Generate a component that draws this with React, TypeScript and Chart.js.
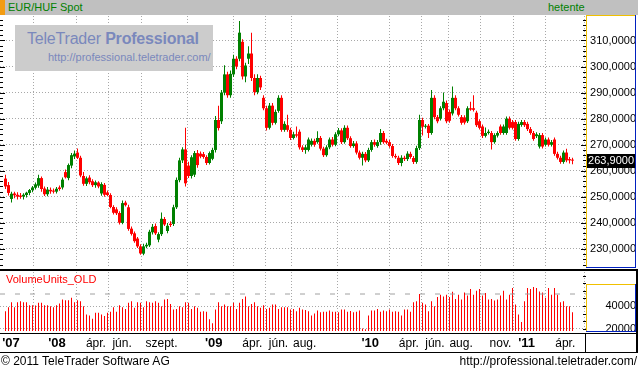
import React, { useEffect, useRef } from 'react';
import { Chart, registerables } from 'chart.js';
Chart.register(...registerables);

// ---------- data (weekly EUR/HUF, first week starting 2007-09-03) ----------
const firstWeek = '2007-09-03';

const opens = [
  257.0, 254.5, 249.2, 251.3, 250.8, 250.5, 250.1, 250.7, 251.5, 252.6,
  253.5, 254.3, 257.2, 253.2, 251.0, 252.7, 252.4, 252.0, 253.6, 253.6,
  259.5, 257.2, 262.0, 265.5, 267.0, 265.0, 258.0, 255.0, 257.4, 256.0,
  254.5, 255.5, 251.3, 254.6, 251.7, 250.7, 246.1, 245.2, 243.8, 240.0,
  247.8, 246.0, 237.8, 236.0, 234.0, 231.0, 228.2, 231.0, 231.4, 236.4,
  238.8, 233.6, 235.7, 241.5, 236.9, 239.7, 239.6, 246.0, 256.4, 264.0,
  268.2, 262.0, 258.0, 258.5, 266.8, 266.6, 266.4, 265.3, 263.0, 264.6,
  268.0, 279.5, 279.0, 290.0, 297.0, 289.0, 297.0, 303.0, 303.0, 309.5,
  296.2, 303.0, 305.0, 295.6, 290.2, 295.6, 288.0, 284.0, 276.5, 285.0,
  278.4, 283.0, 288.0, 275.7, 277.5, 275.7, 272.6, 274.0, 275.0, 269.0,
  268.0, 268.0, 270.0, 271.5, 271.0, 272.6, 268.5, 266.0, 269.0, 272.0,
  270.0, 274.0, 275.5, 271.0, 276.5, 272.5, 269.5, 270.5, 267.0, 265.0,
  266.5, 264.0, 268.0, 271.0, 269.5, 271.0, 274.5, 271.5, 271.0, 269.5,
  265.7, 265.0, 263.0, 265.0, 264.5, 266.5, 264.9, 263.4, 268.7, 279.5,
  276.9, 277.3, 274.5, 288.0, 280.6, 280.0, 284.0, 286.0, 282.6, 282.0,
  288.0, 284.0, 280.6, 280.5, 279.0, 284.0, 284.0, 282.3, 279.0, 277.0,
  273.4, 274.5, 274.5, 271.0, 273.5, 277.0, 274.5, 274.5, 280.0, 278.7,
  278.7, 272.2, 277.6, 278.7, 278.0, 276.0, 274.5, 273.3, 269.3, 273.7,
  270.0, 272.0, 270.0, 272.0, 266.5, 265.0, 263.4, 267.0, 264.5, 264.2,
];
const highs = [
  258.5, 255.7, 252.0, 252.0, 251.8, 251.5, 251.4, 252.0, 253.0, 254.2,
  255.5, 258.5, 257.8, 254.0, 253.8, 253.6, 253.2, 253.8, 254.4, 257.4,
  260.5, 262.8, 266.8, 267.8, 268.6, 265.8, 259.5, 257.8, 258.3, 256.8,
  256.3, 256.0, 255.6, 255.3, 252.4, 251.4, 246.8, 246.0, 244.5, 248.6,
  248.5, 247.0, 238.6, 236.7, 234.6, 231.8, 232.0, 232.4, 237.4, 239.6,
  239.8, 236.4, 244.0, 242.3, 240.0, 240.6, 247.0, 257.4, 265.0, 269.0,
  276.5, 263.5, 266.0, 267.6, 268.0, 267.4, 267.2, 266.0, 267.4, 268.8,
  281.0, 285.0, 291.0, 300.5, 298.0, 298.5, 304.5, 304.0, 317.5, 310.5,
  301.5, 307.8, 313.0, 297.0, 297.0, 296.5, 289.0, 285.0, 286.0, 286.0,
  283.5, 289.0, 289.0, 279.0, 281.5, 276.5, 275.0, 277.0, 275.8, 269.8,
  270.0, 272.8, 272.4, 272.3, 275.2, 273.4, 269.2, 269.8, 272.8, 273.0,
  274.8, 276.4, 276.3, 277.5, 277.4, 273.3, 271.4, 271.3, 267.8, 267.3,
  267.2, 268.8, 271.8, 272.0, 271.8, 276.0, 275.3, 272.3, 271.8, 270.3,
  266.5, 265.8, 266.0, 265.8, 267.5, 267.3, 265.7, 269.6, 281.5, 280.4,
  278.0, 278.0, 291.0, 289.0, 281.4, 284.8, 290.0, 287.0, 283.5, 292.3,
  289.0, 284.8, 281.4, 281.3, 284.8, 286.5, 289.0, 283.0, 279.8, 277.8,
  276.6, 275.8, 275.3, 274.4, 275.2, 277.8, 277.8, 280.8, 280.8, 279.5,
  279.5, 278.8, 279.5, 279.5, 278.8, 276.8, 275.3, 274.8, 274.5, 274.5,
  272.8, 272.8, 271.8, 272.8, 267.3, 265.8, 267.8, 268.5, 265.3, 265.0,
];
const lows = [
  253.0, 250.5, 247.8, 249.5, 249.0, 249.3, 249.0, 249.8, 250.6, 251.8,
  252.8, 253.5, 252.0, 250.3, 250.2, 251.2, 251.3, 251.3, 252.3, 252.8,
  257.0, 256.4, 261.0, 264.5, 264.5, 257.5, 254.3, 254.2, 254.8, 253.8,
  253.5, 253.3, 250.4, 250.0, 250.2, 245.6, 243.2, 243.0, 239.4, 239.5,
  246.3, 237.0, 235.2, 232.4, 230.4, 227.8, 227.6, 230.3, 230.8, 235.6,
  235.4, 232.6, 235.0, 238.8, 236.0, 238.4, 238.8, 245.3, 255.6, 263.0,
  254.0, 257.2, 257.0, 257.6, 261.2, 264.8, 264.6, 262.2, 262.4, 264.0,
  267.0, 275.5, 278.0, 289.0, 288.0, 288.0, 296.0, 299.0, 302.0, 295.0,
  294.0, 301.0, 294.5, 289.0, 289.4, 291.0, 283.2, 275.5, 275.8, 277.5,
  277.8, 282.3, 275.0, 275.0, 275.0, 271.8, 272.0, 272.8, 268.2, 267.2,
  266.5, 267.4, 269.3, 269.2, 270.4, 267.8, 265.3, 265.4, 268.3, 269.3,
  269.4, 273.3, 270.3, 270.4, 271.8, 268.8, 268.8, 266.3, 264.3, 262.0,
  263.3, 263.4, 267.3, 269.2, 268.8, 270.0, 270.4, 270.2, 268.8, 265.0,
  264.6, 262.2, 261.7, 263.8, 263.8, 264.6, 262.6, 262.7, 268.0, 273.5,
  276.2, 272.6, 273.8, 279.8, 278.2, 279.3, 283.2, 278.2, 278.4, 281.2,
  283.2, 280.8, 277.7, 277.8, 278.3, 283.0, 282.8, 276.8, 275.8, 272.6,
  272.8, 273.9, 268.2, 270.4, 272.8, 273.8, 273.8, 273.8, 275.8, 275.8,
  271.5, 271.5, 276.9, 276.8, 275.3, 273.8, 271.5, 272.6, 268.6, 268.6,
  269.3, 269.3, 269.3, 265.8, 264.3, 262.7, 262.7, 263.3, 262.8, 262.5,
];
const closes = [
  254.0, 251.5, 251.2, 250.6, 250.1, 250.0, 250.8, 251.6, 252.6, 253.6,
  254.8, 257.2, 253.0, 251.0, 252.8, 252.1, 252.0, 253.1, 253.0, 256.6,
  257.5, 262.2, 266.0, 266.6, 265.0, 258.2, 255.0, 257.1, 255.6, 254.5,
  255.6, 254.0, 254.9, 250.8, 250.7, 246.1, 243.9, 243.7, 240.1, 247.6,
  246.8, 237.7, 235.8, 233.0, 231.0, 228.3, 231.0, 231.6, 236.6, 238.5,
  236.0, 235.7, 241.6, 239.4, 238.9, 239.2, 246.0, 256.5, 264.0, 268.2,
  255.2, 258.0, 265.2, 266.8, 262.2, 265.5, 265.3, 263.0, 266.8, 268.0,
  279.5, 276.4, 290.0, 297.0, 289.0, 297.2, 303.0, 300.0, 313.0, 296.2,
  300.4, 305.0, 295.6, 290.2, 295.6, 292.0, 284.0, 276.5, 285.0, 278.4,
  282.6, 288.0, 275.7, 278.0, 275.7, 272.6, 274.0, 273.5, 269.0, 268.0,
  269.0, 272.0, 271.5, 270.0, 272.6, 268.5, 266.0, 269.0, 272.0, 270.0,
  274.0, 275.5, 271.0, 276.5, 272.5, 269.5, 270.5, 267.0, 265.0, 266.5,
  264.0, 268.0, 271.0, 270.0, 271.0, 274.5, 271.0, 270.8, 269.5, 265.7,
  265.2, 263.0, 265.0, 264.5, 266.6, 265.3, 263.4, 268.7, 279.5, 276.9,
  277.3, 274.5, 288.0, 280.6, 279.0, 284.0, 286.5, 279.0, 279.2, 288.0,
  284.0, 281.5, 278.4, 278.5, 284.0, 283.5, 283.4, 277.5, 276.5, 273.4,
  274.5, 275.0, 271.0, 273.7, 274.5, 274.5, 277.0, 280.0, 276.5, 276.5,
  272.2, 278.0, 278.7, 277.5, 276.0, 274.5, 272.2, 274.0, 273.7, 269.3,
  272.0, 270.0, 271.0, 266.5, 265.0, 263.4, 267.0, 264.0, 264.0, 263.9,
];
const volumes = [
  35500, 39000, 43300, 39000, 43300, 44200, 43300, 43300, 40700, 40700,
  40400, 42800, 42800, 40700, 40700, 39800, 39000, 40700, 42200, 45700,
  45100, 45100, 47200, 43300, 45100, 44200, 39800, 32600, 31700, 28800,
  34100, 34100, 32600, 31200, 34100, 35000, 39000, 35000, 40700, 39000,
  37500, 42800, 44200, 38400, 43300, 42800, 39000, 44200, 43300, 42800,
  44200, 42800, 39800, 45700, 46300, 41900, 37000, 37500, 39800, 39000,
  43300, 42800, 37500, 39800, 38400, 35000, 35500, 35000, 28300, 24800,
  37000, 43300, 39800, 41300, 39800, 39800, 42800, 37500, 42800, 46300,
  48500, 39800, 41900, 43300, 39800, 38400, 40700, 37500, 38400, 41300,
  41300, 37500, 39000, 39000, 39000, 37000, 37500, 35500, 38400, 37000,
  36500, 35500, 31700, 33500, 36000, 34600, 35000, 35000, 36000, 35000,
  35000, 34600, 37000, 37000, 35000, 35600, 34600, 35000, 36000, 20200,
  19500, 31700, 36000, 36000, 37500, 35000, 36000, 35500, 37000, 35000,
  35500, 35000, 31700, 37000, 37000, 35000, 43300, 44200, 50600, 42800,
  41300, 35500, 44200, 39800, 48000, 50000, 48500, 50000, 48000, 52600,
  46300, 50000, 45700, 52000, 49200, 55000, 50000, 53500, 55000, 49200,
  51500, 45700, 46300, 44800, 45700, 49200, 53500, 45700, 50000, 55800,
  41300, 32600, 26000, 44200, 55800, 55000, 56700, 55800, 52900, 52000,
  47200, 55800, 50000, 55800, 50000, 43300, 44200, 39800, 39800, 34600,
];
const volumeAverage = 50600;
const lastPrice = 263.9;

const firstYearLabel = "'07";
const tickDates = [
  '2008-01-01', '2008-04-01', '2008-06-01', '2008-09-01',
  '2009-01-01', '2009-04-01', '2009-06-01', '2009-08-01',
  '2010-01-01', '2010-04-01', '2010-06-01', '2010-08-01', '2010-11-01',
  '2011-01-01', '2011-04-01',
];
const tickLabels = [
  "'08", 'ápr.', 'jún.', 'szept.',
  "'09", 'ápr.', 'jún.', 'aug.',
  "'10", 'ápr.', 'jún.', 'aug.', 'nov.',
  "'11", 'ápr.',
];
const priceTicks = [230, 240, 250, 260, 270, 280, 290, 300, 310];
const volumeTicks = [20000, 40000];

// ---------- layout / style ----------
const PX_PER_WEEK = 3;
const X_MIN = -5.5 / PX_PER_WEEK;
const X_MAX = X_MIN + 586 / PX_PER_WEEK;
const FIRST_LABEL_POS = X_MIN + 11 / PX_PER_WEEK;
const PRICE_MIN = 222.7;
const PRICE_MAX = 319.4;
const VOL_MIN = 18000;
const VOL_MAX = 70000;
const GREEN = '#008000';
const RED = '#ff0000';
const GRID = '#a8a8a8';
const YELLOW = '#f0c000';
const BLUE = '#0020c0';
const FONT = 'Arial, "Liberation Sans", sans-serif';

const weekIndex = (d: string) => (Date.parse(d) - Date.parse(firstWeek)) / (7 * 86400000);
const fmtPrice = (v: number) => v.toFixed(4).replace('.', ',');

function xScale(showLabels: boolean): any {
  const values = [FIRST_LABEL_POS, ...tickDates.map(weekIndex)];
  const labels = [firstYearLabel, ...tickLabels];
  return {
    type: 'linear',
    min: X_MIN,
    max: X_MAX,
    offset: false,
    afterBuildTicks: (s: any) => { s.ticks = values.map((v) => ({ value: v })); },
    afterFit: (s: any) => { s.height = showLabels ? 21 : 0; s.paddingLeft = 0; s.paddingRight = 0; },
    grid: {
      color: (c: any) => (c.index === 0 ? 'rgba(0,0,0,0)' : GRID),
      lineWidth: 1,
      drawTicks: false,
    },
    border: { display: false, dash: [1, 2] },
    ticks: {
      display: showLabels,
      autoSkip: false,
      maxRotation: 0,
      minRotation: 0,
      padding: 5,
      color: '#000',
      callback: (_v: any, i: number) => labels[i],
      font: (c: any) => {
        const l = labels[c.index] || '';
        return l.startsWith("'") ? { family: FONT, size: 13, weight: 'bold' } : { family: FONT, size: 12 };
      },
    },
  };
}

function yScale(min: number, max: number, ticks: number[], fmt: (v: number) => string): any {
  return {
    type: 'linear',
    position: 'right',
    min,
    max,
    afterBuildTicks: (s: any) => { s.ticks = ticks.map((v) => ({ value: v })); },
    afterFit: (s: any) => { s.width = 50; s.paddingTop = 0; s.paddingBottom = 0; },
    grid: { color: GRID, lineWidth: 1, drawTicks: false },
    border: { display: false, dash: [1, 2] },
    ticks: {
      crossAlign: 'far',
      padding: 0,
      color: '#000',
      font: { family: FONT, size: 11 },
      callback: (v: any) => fmt(Number(v)),
    },
  };
}

const priceDecor = {
  id: 'priceDecor',
  afterDraw(chart: any) {
    const { ctx, chartArea } = chart;
    const y = chart.scales.y;
    ctx.save();
    ctx.strokeStyle = '#000';
    ctx.lineWidth = 1;
    for (let v = Math.ceil(PRICE_MIN / 2) * 2; v <= PRICE_MAX; v += 2) {
      const py = Math.round(y.getPixelForValue(v)) + 0.5;
      const major = v % 10 === 0;
      ctx.beginPath();
      ctx.moveTo(chartArea.right - (major ? 5 : 3), py);
      ctx.lineTo(chartArea.right, py);
      ctx.moveTo(chartArea.left, py);
      ctx.lineTo(chartArea.left + (major ? 5 : 3), py);
      ctx.stroke();
    }
    const py = Math.round(y.getPixelForValue(lastPrice));
    ctx.fillStyle = '#000';
    ctx.fillRect(chartArea.right, py - 7, 49, 14);
    ctx.fillStyle = '#fff';
    ctx.font = `11px ${FONT}`;
    ctx.textAlign = 'right';
    ctx.textBaseline = 'middle';
    ctx.fillText(fmtPrice(lastPrice), chart.width - 2, py);
    ctx.restore();
  },
};

const volDecor = {
  id: 'volDecor',
  afterDraw(chart: any) {
    const { ctx, chartArea } = chart;
    const y = chart.scales.y;
    ctx.save();
    ctx.strokeStyle = '#000';
    ctx.lineWidth = 1;
    for (let v = 20000; v <= VOL_MAX; v += 20000 / 3) {
      const py = Math.round(y.getPixelForValue(v)) + 0.5;
      ctx.beginPath();
      ctx.moveTo(chartArea.right - 3, py);
      ctx.lineTo(chartArea.right, py);
      ctx.stroke();
    }
    ctx.restore();
  },
};

export default function App() {
  const priceRef = useRef<HTMLCanvasElement>(null);
  const volRef = useRef<HTMLCanvasElement>(null);

  useEffect(() => {
    const candleColor = (c: any) => (closes[c.dataIndex] >= opens[c.dataIndex] ? GREEN : RED);
    const price = new Chart(priceRef.current as HTMLCanvasElement, {
      type: 'bar',
      data: {
        datasets: [
          {
            data: closes.map((_, i) => ({ x: i, y: [lows[i], highs[i]] })) as any,
            backgroundColor: candleColor,
            barThickness: 1,
            grouped: false,
            inflateAmount: 0,
            borderWidth: 0,
          } as any,
          {
            data: closes.map((c, i) => ({ x: i, y: [opens[i], c] })) as any,
            backgroundColor: candleColor,
            barThickness: 3,
            grouped: false,
            inflateAmount: 0,
            borderWidth: 0,
            minBarLength: 1,
          } as any,
        ],
      },
      options: {
        animation: false,
        responsive: false,
        devicePixelRatio: 1,
        layout: { padding: 0 },
        plugins: { legend: { display: false }, tooltip: { enabled: false } },
        scales: {
          x: xScale(false),
          y: yScale(PRICE_MIN, PRICE_MAX, priceTicks, fmtPrice),
        },
      } as any,
      plugins: [priceDecor],
    });

    const vol = new Chart(volRef.current as HTMLCanvasElement, {
      type: 'bar',
      data: {
        datasets: [
          {
            type: 'line',
            data: [{ x: X_MIN, y: volumeAverage }, { x: X_MAX, y: volumeAverage }],
            borderColor: '#a0a0a0',
            borderWidth: 1,
            borderDash: [5, 10],
            pointRadius: 0,
          } as any,
          {
            data: volumes.map((v, i) => ({ x: i, y: v })) as any,
            backgroundColor: RED,
            barThickness: 1,
            grouped: false,
            inflateAmount: 0,
            borderWidth: 0,
          } as any,
        ],
      },
      options: {
        animation: false,
        responsive: false,
        devicePixelRatio: 1,
        layout: { padding: 0 },
        plugins: { legend: { display: false }, tooltip: { enabled: false } },
        scales: {
          x: xScale(true),
          y: yScale(VOL_MIN, VOL_MAX, volumeTicks, (v) => String(v)),
        },
      } as any,
      plugins: [volDecor],
    });

    return () => {
      price.destroy();
      vol.destroy();
    };
  }, []);

  const abs = (l: number, t: number, w: number, h: number, bg: string): React.CSSProperties => ({
    position: 'absolute', left: l, top: t, width: w, height: h, background: bg,
  });
  const txt: React.CSSProperties = { position: 'absolute', fontFamily: FONT, whiteSpace: 'nowrap', lineHeight: 1 };

  return (
    <div style={{ position: 'absolute', left: 0, top: 0, width: 638, height: 371, background: '#fff', overflow: 'hidden' }}>
      {/* title bar */}
      <div style={abs(0, 0, 638, 15, '#c0c0c0')} />
      <div style={abs(0, 0, 5, 15, '#f39c12')} />
      <div style={{ ...txt, left: 8, top: 2, fontSize: 11, color: GREEN }}>EUR/HUF Spot</div>
      <div style={{ ...txt, left: 548, top: 2, fontSize: 11, color: GREEN }}>hetente</div>

      {/* price panel */}
      <canvas ref={priceRef} width={636} height={252} style={{ position: 'absolute', left: 0, top: 16, width: 636, height: 252 }} />
      <div style={abs(15, 25, 198, 46, '#cccccc')} />
      <div style={{ ...txt, left: 27, top: 31, fontSize: 16, color: '#7a88bc', letterSpacing: -0.2 }}>
        TeleTrader <b>Professional</b>
      </div>
      <div style={{ ...txt, left: 48, top: 52, fontSize: 11, color: '#7a88bc' }}>http://professional.teletrader.com/</div>
      <div style={abs(586, 15, 50, 1, YELLOW)} />
      <div style={abs(586, 15, 1, 253, YELLOW)} />
      <div style={abs(635, 15, 1, 253, BLUE)} />
      <div style={abs(586, 267, 50, 1, BLUE)} />

      {/* separator */}
      <div style={abs(0, 269, 638, 2, '#000')} />
      <div style={abs(636, 269, 2, 84, '#000')} />

      {/* volume panel */}
      <canvas ref={volRef} width={636} height={80} style={{ position: 'absolute', left: 0, top: 272, width: 636, height: 80 }} />
      <div style={{ ...txt, left: 6, top: 274, fontSize: 11, color: RED }}>VolumeUnits_OLD</div>
      <div style={abs(586, 284, 50, 1, YELLOW)} />
      <div style={abs(586, 284, 1, 48, YELLOW)} />
      <div style={abs(635, 284, 1, 48, BLUE)} />
      <div style={abs(586, 331, 50, 1, BLUE)} />

      {/* x axis row lines */}
      <div style={abs(0, 333, 638, 1, '#000')} />
      <div style={abs(0, 352, 638, 1, '#000')} />
      <div style={abs(585, 333, 1, 20, '#000')} />

      {/* footer */}
      <div style={{ ...txt, left: 1, top: 355, fontSize: 12, color: '#000' }}>© 2011 TeleTrader Software AG</div>
      <div style={{ ...txt, right: 1, top: 355, fontSize: 12, color: '#000' }}>http://professional.teletrader.com/</div>
    </div>
  );
}
